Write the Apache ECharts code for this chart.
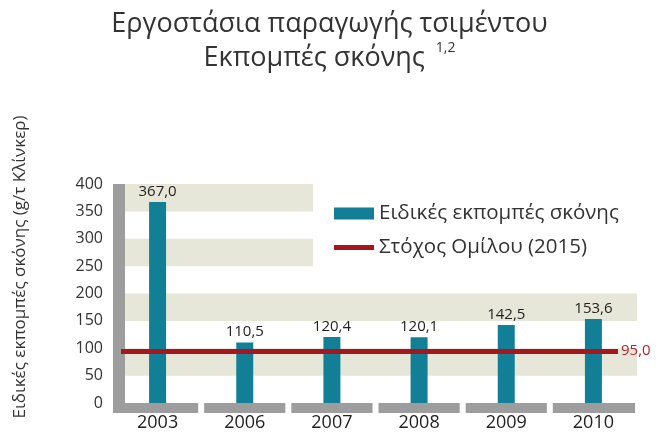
<!DOCTYPE html>
<html>
<head>
<meta charset="utf-8">
<script src="https://cdn.jsdelivr.net/npm/echarts@6/dist/echarts.min.js"></script>
<style>html,body{margin:0;padding:0;background:#fff;}#c{width:659px;height:434px;}</style>
</head>
<body>
<div id="c"></div>
<script>
var years = ['2003', '2006', '2007', '2008', '2009', '2010'];
var emissions = [367.0, 110.5, 120.4, 120.1, 142.5, 153.6];
var target = 95.0;
var yTicks = [0, 50, 100, 150, 200, 250, 300, 350, 400];
var seriesNames = ['Ειδικές εκπομπές σκόνης', 'Στόχος Ομίλου (2015)'];

function fmt(v) { return v.toFixed(1).replace('.', ','); }

var FONT = 'Open Sans';
var chart = echarts.init(document.getElementById('c'), null, {renderer: 'canvas'});
chart.setOption({
  animation: false,
  backgroundColor: '#fff',
  textStyle: {fontFamily: FONT},
  title: {
    text: 'Εργοστάσια παραγωγής τσιμέντου\nΕκπομπές σκόνης {sup|1,2}',
    left: 'center',
    top: 2,
    textStyle: {
      fontFamily: FONT, fontSize: 27, fontWeight: 'normal', color: '#333', lineHeight: 34,
      rich: {sup: {fontFamily: FONT, fontSize: 14, color: '#333', verticalAlign: 'top', lineHeight: 26, padding: [0, 0, 10, 4]}}
    }
  },
  legend: {
    orient: 'vertical',
    left: 329,
    top: 198,
    itemWidth: 40,
    itemHeight: 12,
    itemGap: 13,
    textStyle: {fontFamily: FONT, fontSize: 20.5, color: '#333'},
    data: [
      {name: seriesNames[0], icon: 'rect'},
      {name: seriesNames[1], icon: 'path://M0,0 H40 V5 H0 Z'}
    ]
  },
  graphic: [
    {type: 'rect', z: 1, shape: {x: 313, y: 182, width: 326, height: 86}, style: {fill: '#fff'}},
    {type: 'text', z: 5, x: 20, y: 267, rotation: Math.PI / 2,
     style: {text: 'Ειδικές εκπομπές σκόνης (g/τ Κλίνκερ)', fontFamily: FONT, fontSize: 17, fill: '#333', textAlign: 'center', textVerticalAlign: 'middle'}}
  ],
  grid: {left: 114, right: 22, top: 184, bottom: 31, containLabel: false},
  xAxis: {
    type: 'category',
    data: years,
    boundaryGap: true,
    axisLine: {show: false},
    axisTick: {show: false},
    axisLabel: {fontFamily: FONT, fontSize: 18, color: '#222', margin: 11}
  },
  yAxis: {
    type: 'value',
    min: yTicks[0],
    max: yTicks[yTicks.length - 1],
    interval: yTicks[1] - yTicks[0],
    offset: -5,
    axisLine: {show: true, lineStyle: {color: '#9d9d9d', width: 12, cap: 'butt'}},
    axisTick: {show: false},
    splitLine: {show: false},
    splitArea: {show: true, areaStyle: {color: ['rgba(255,255,255,0)', '#e6e7d8']}},
    axisLabel: {fontFamily: FONT, fontSize: 16, color: '#333', margin: 16}
  },
  series: [
    {
      name: 'base',
      type: 'custom',
      silent: true,
      z: 1,
      data: years.map(function (y) { return [y, 0]; }),
      renderItem: function (params, api) {
        var i = api.value(0);
        var c = api.coord([i, 0]);
        var w = api.size([1, 0])[0];
        var x0 = c[0] - w / 2 + (i === 0 ? -1 : 3);
        var x1 = c[0] + w / 2 - (i === years.length - 1 ? 2 : 3);
        return {type: 'rect', shape: {x: x0, y: c[1], width: x1 - x0, height: 10}, style: {fill: '#9d9d9d'}};
      }
    },
    {
      name: seriesNames[0],
      type: 'bar',
      z: 2,
      barWidth: 17,
      data: emissions,
      itemStyle: {color: '#127f97'},
      label: {show: true, position: 'top', distance: 3, fontFamily: FONT, fontSize: 15, color: '#222',
        formatter: function (p) { return fmt(p.value); }}
    },
    {
      name: seriesNames[1],
      type: 'line',
      z: 3,
      data: [],
      itemStyle: {color: '#a5171f'},
      lineStyle: {color: '#a5171f', width: 5},
      markLine: {
        silent: true,
        z: 3,
        symbol: ['none', 'circle'],
        symbolSize: [0, 6],
        lineStyle: {color: '#a5171f', width: 5, type: 'solid'},
        label: {show: true, position: 'end', distance: 3, fontFamily: FONT, fontSize: 15, color: '#b0242c',
          formatter: function () { return fmt(target); }},
        data: [[{yAxis: target, x: 121}, {yAxis: target, x: 618}]]
      }
    }
  ]
});
</script>
</body>
</html>
